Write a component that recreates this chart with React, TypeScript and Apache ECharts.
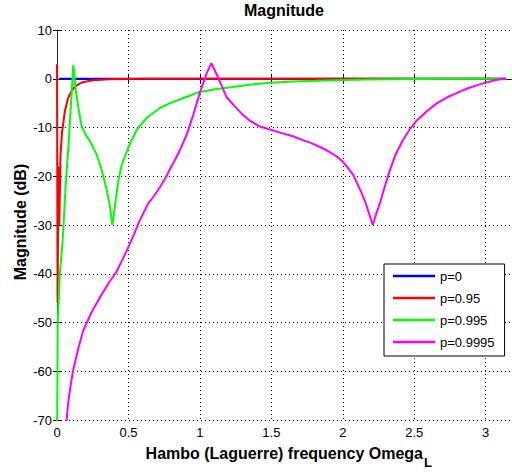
import React, { useEffect, useRef } from "react";
import * as echarts from "echarts";

const seriesNames = ["p=0", "p=0.95", "p=0.995", "p=0.9995"];
const seriesColors = ["#0000ff", "#ff0000", "#00ff00", "#ff00ff"];

const p0: number[][] = [
  [0.015, 0], [1.0, 0], [2.0, 0], [3.1416, 0],
];

const p095: number[][] = [
  [0, 3], [0.004, -46], [0.01, -18], [0.016, -30], [0.024, -16], [0.035, -11],
  [0.056, -6.5], [0.077, -4], [0.105, -2.3], [0.14, -1.3], [0.18, -0.7],
  [0.25, -0.3], [0.37, -0.1], [0.6, 0], [1.5, 0], [3.1416, 0],
];

const p0995: number[][] = [
  [0, -76], [0.005, -50], [0.02, -40], [0.04, -33], [0.06, -22], [0.082, -13],
  [0.1, -4], [0.114, 2.8], [0.13, -2], [0.15, -6], [0.17, -9.5], [0.2, -11.5],
  [0.231, -12.8], [0.278, -15.6], [0.313, -18.7], [0.348, -22.8], [0.371, -26.3],
  [0.387, -30], [0.406, -26], [0.429, -21], [0.452, -17.8], [0.5, -14],
  [0.558, -10.5], [0.628, -8], [0.721, -6], [0.791, -5], [0.9, -3.8], [1.0, -2.7],
  [1.12, -2.1], [1.23, -1.7], [1.36, -1.2], [1.49, -0.8], [1.65, -0.55], [1.82, -0.4],
  [2.0, -0.25], [2.17, -0.15], [2.52, -0.05], [3.1416, 0],
];

const p09995: number[][] = [
  [0.055, -76], [0.061, -72], [0.08, -66], [0.1, -62], [0.114, -59.7], [0.15, -55.2],
  [0.184, -51.6], [0.24, -48], [0.301, -44.8], [0.36, -42], [0.418, -39.5],
  [0.46, -37], [0.5, -34.5], [0.54, -31.8], [0.58, -29], [0.64, -25.5], [0.68, -24],
  [0.721, -22.2], [0.76, -20.3], [0.791, -18.5], [0.83, -16.4], [0.861, -14.6],
  [0.907, -11.5], [0.955, -7.3], [1.0, -2.8], [1.047, 1.1], [1.08, 3.2], [1.128, 0.2],
  [1.187, -3.8], [1.24, -5.5], [1.3, -7.4], [1.35, -8.6], [1.42, -9.8], [1.5, -10.5],
  [1.58, -11.2], [1.65, -11.8], [1.72, -12.6], [1.78, -13.2], [1.84, -14], [1.9, -14.9],
  [1.96, -16], [2.0, -17], [2.03, -18.1], [2.07, -19.6], [2.1, -21.4], [2.13, -23.3],
  [2.16, -25.5], [2.19, -28.2], [2.21, -30], [2.235, -27.6], [2.26, -25.5], [2.295, -22],
  [2.33, -18.7], [2.37, -15.5], [2.42, -12.6], [2.47, -10.3], [2.52, -8.5], [2.59, -6.6],
  [2.66, -5], [2.73, -3.8], [2.8, -2.9], [2.87, -2], [2.94, -1.3], [3.01, -0.7],
  [3.08, -0.2], [3.1416, 0],
];

const seriesData = [p0, p095, p0995, p09995];

const titleText = "Magnitude";
const xName = "Hambo (Laguerre) frequency Omega";
const xNameSub = "L";
const yName = "Magnitude (dB)";

const X_MIN = 0;
const X_MAX = 3.184;
const X_INTERVAL = 0.5;
const Y_MIN = -70;
const Y_MAX = 10;
const Y_INTERVAL = 10;

const FONT = "'Liberation Sans', Arial, Helvetica, sans-serif";

export default function App() {
  const ref = useRef<HTMLDivElement>(null);

  useEffect(() => {
    if (!ref.current) return;
    const chart = echarts.init(ref.current, undefined, { renderer: "svg" });

    const splitLine = {
      show: true,
      lineStyle: { color: "#000", type: [1, 3] as any, width: 1 },
    };
    const axisLine = { show: true, lineStyle: { color: "#222", width: 1 } };
    const tick = { show: true, inside: true, length: 5, lineStyle: { color: "#000" } };

    chart.setOption({
      animation: false,
      backgroundColor: "#fff",
      grid: { left: 57, right: 0, top: 30, bottom: 52, containLabel: false },
      xAxis: [
        {
          type: "value",
          min: X_MIN,
          max: X_MAX,
          interval: X_INTERVAL,
          position: "bottom",
          axisLine,
          axisTick: tick,
          axisLabel: {
            show: true,
            showMaxLabel: false,
            margin: 6,
            color: "#000",
            fontSize: 13,
            fontFamily: FONT,
          },
          splitLine,
        },
        {
          type: "value",
          min: X_MIN,
          max: X_MAX,
          interval: X_INTERVAL,
          position: "top",
          axisLine,
          axisTick: tick,
          axisLabel: { show: false },
          splitLine: { show: false },
        },
      ],
      yAxis: [
        {
          type: "value",
          min: Y_MIN,
          max: Y_MAX,
          interval: Y_INTERVAL,
          position: "left",
          axisLine,
          axisTick: tick,
          axisLabel: {
            show: true,
            margin: 5,
            color: "#000",
            fontSize: 13,
            fontFamily: FONT,
          },
          splitLine,
        },
        {
          type: "value",
          min: Y_MIN,
          max: Y_MAX,
          interval: Y_INTERVAL,
          position: "right",
          axisLine: { show: false },
          axisTick: { ...tick, length: 4 },
          axisLabel: { show: false },
          splitLine: { show: false },
        },
      ],
      legend: {
        show: true,
        orient: "vertical",
        left: 384,
        top: 264,
        data: seriesNames,
        icon: "rect",
        itemWidth: 42,
        itemHeight: 2.5,
        itemGap: 8,
        padding: [5, 10, 7, 9],
        backgroundColor: "#fff",
        borderColor: "#000",
        borderWidth: 1,
        borderRadius: 0,
        textStyle: { color: "#000", fontSize: 13, lineHeight: 14, fontFamily: FONT },
      },
      series: seriesNames.map((name, i) => ({
        name,
        type: "line",
        data: seriesData[i],
        xAxisIndex: 0,
        yAxisIndex: 0,
        symbol: "none",
        showSymbol: false,
        clip: true,
        lineStyle: { color: seriesColors[i], width: 2 },
        itemStyle: { color: seriesColors[i] },
        z: 2 + i,
      })),
      graphic: [
        {
          type: "text",
          x: 284,
          y: 2,
          z: 100,
          style: {
            text: titleText,
            fontSize: 16,
            fontWeight: "bold",
            fontFamily: FONT,
            fill: "#000",
            align: "center",
            verticalAlign: "top",
          },
        },
        {
          type: "text",
          x: 423,
          y: 453,
          style: {
            text: xName,
            fontSize: 16,
            fontWeight: "bold",
            fontFamily: FONT,
            fill: "#000",
            align: "right",
            verticalAlign: "middle",
          },
        },
        {
          type: "text",
          x: 424,
          y: 462,
          style: {
            text: xNameSub,
            fontSize: 13,
            fontWeight: "bold",
            fontFamily: FONT,
            fill: "#000",
            align: "left",
            verticalAlign: "middle",
          },
        },
        {
          type: "text",
          x: 20,
          y: 222,
          rotation: Math.PI / 2,
          style: {
            text: yName,
            fontSize: 16,
            fontWeight: "bold",
            fontFamily: FONT,
            fill: "#000",
            align: "center",
            verticalAlign: "middle",
          },
        },
      ],
    });

    return () => {
      chart.dispose();
    };
  }, []);

  return (
    <div
      ref={ref}
      style={{ position: "absolute", left: 0, top: 0, width: 512, height: 472 }}
    />
  );
}
